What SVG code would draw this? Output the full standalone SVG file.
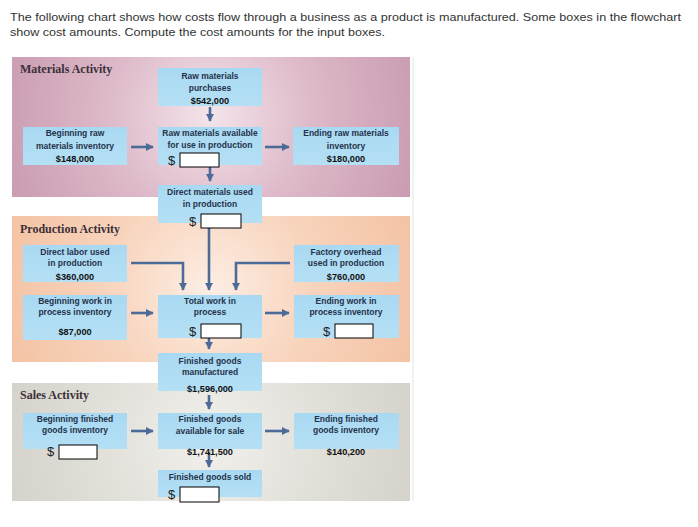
<svg xmlns="http://www.w3.org/2000/svg" width="698" height="527" viewBox="0 0 698 527">
<style>
.hdr{font-family:"Liberation Sans",Arial,sans-serif;font-size:11.5px;fill:#333}
.ttl{font-family:"Liberation Serif","Times New Roman",serif;font-weight:bold;font-size:12px;fill:#3b3038}
.box{fill:url(#boxg)}
.lb{font-family:"Liberation Sans",Arial,sans-serif;font-weight:bold;font-size:8.5px;fill:#25324a;text-anchor:middle}
.amt{font-family:"Liberation Sans",Arial,sans-serif;font-weight:bold;font-size:9.2px;fill:#111;text-anchor:middle}
.dol{font-family:"Liberation Sans",Arial,sans-serif;font-size:13px;fill:#222}
.inp{fill:#fff;stroke:#000;stroke-width:1}
.conn{stroke:#4d6b98;stroke-width:2.6;fill:none}
</style>
<defs>
<linearGradient id="boxg" x1="0" y1="0" x2="0" y2="1">
<stop offset="0" stop-color="#a9d9f2"/>
<stop offset="1" stop-color="#b4e0f5"/>
</linearGradient>
<radialGradient id="matg" cx="210" cy="115" r="230" gradientUnits="userSpaceOnUse">
<stop offset="0" stop-color="#f4e4ea"/>
<stop offset="0.45" stop-color="#ddb9c9"/>
<stop offset="1" stop-color="#c798ae"/>
</radialGradient>
<radialGradient id="prodg" cx="210" cy="290" r="230" gradientUnits="userSpaceOnUse">
<stop offset="0" stop-color="#fdeee4"/>
<stop offset="0.45" stop-color="#f8d4bd"/>
<stop offset="1" stop-color="#f3c0a0"/>
</radialGradient>
<radialGradient id="salg" cx="210" cy="440" r="230" gradientUnits="userSpaceOnUse">
<stop offset="0" stop-color="#f1f0ec"/>
<stop offset="0.5" stop-color="#e0dfd8"/>
<stop offset="1" stop-color="#d2d0c8"/>
</radialGradient>
<marker id="ah" viewBox="0 0 10 10" refX="9" refY="5" markerWidth="3.2" markerHeight="3.2" orient="auto" markerUnits="strokeWidth">
<path d="M0,0 L10,5 L0,10 z" fill="#4d6b98"/>
</marker>
</defs>
<rect width="698" height="527" fill="#fff"/>
<text class="hdr" x="10" y="21" textLength="671" lengthAdjust="spacingAndGlyphs">The following chart shows how costs flow through a business as a product is manufactured. Some boxes in the flowchart</text>
<text class="hdr" x="10" y="36" textLength="375" lengthAdjust="spacingAndGlyphs">show cost amounts. Compute the cost amounts for the input boxes.</text>

<g id="panels">
<rect x="12" y="57" width="398" height="140" fill="url(#matg)"/>
<rect x="12" y="216" width="398" height="146" fill="url(#prodg)"/>
<rect x="12" y="383" width="398" height="118" fill="url(#salg)"/>
<line x1="413" y1="57" x2="413" y2="501" stroke="#e4e4e4" stroke-width="1"/>
<text class="ttl" x="20" y="73">Materials Activity</text>
<text class="ttl" x="20" y="233">Production Activity</text>
<text class="ttl" x="20" y="399">Sales Activity</text>
</g>

<g id="connectors">
<line class="conn" x1="210" y1="107" x2="210" y2="121" marker-end="url(#ah)"/>
<line class="conn" x1="131" y1="147" x2="153" y2="147" marker-end="url(#ah)"/>
<line class="conn" x1="265" y1="147" x2="289" y2="147" marker-end="url(#ah)"/>
<line class="conn" x1="210" y1="167" x2="210" y2="181" marker-end="url(#ah)"/>
<polyline class="conn" points="131,263 183,263 183,290" marker-end="url(#ah)"/>
<line class="conn" x1="209" y1="228" x2="209" y2="290" marker-end="url(#ah)"/>
<polyline class="conn" points="290,263 236,263 236,290" marker-end="url(#ah)"/>
<line class="conn" x1="131" y1="313" x2="153" y2="313" marker-end="url(#ah)"/>
<line class="conn" x1="265" y1="313" x2="289" y2="313" marker-end="url(#ah)"/>
<line class="conn" x1="209" y1="338" x2="209" y2="349" marker-end="url(#ah)"/>
<line class="conn" x1="209" y1="395" x2="209" y2="409" marker-end="url(#ah)"/>
<line class="conn" x1="131" y1="431" x2="153" y2="431" marker-end="url(#ah)"/>
<line class="conn" x1="265" y1="431" x2="289" y2="431" marker-end="url(#ah)"/>
<line class="conn" x1="209" y1="452" x2="209" y2="467" marker-end="url(#ah)"/>
</g>

<g id="raw-materials-purchases">
<rect class="box" x="158" y="68" width="104" height="38"/>
<text class="lb" x="210" y="79">Raw materials</text>
<text class="lb" x="210" y="91">purchases</text>
<text class="amt" x="210" y="104">$542,000</text>
</g>
<g id="beginning-raw-materials">
<rect class="box" x="23" y="127" width="104" height="38"/>
<text class="lb" x="75" y="136">Beginning raw</text>
<text class="lb" x="75" y="149">materials inventory</text>
<text class="amt" x="75" y="162">$148,000</text>
</g>
<g id="raw-materials-available">
<rect class="box" x="158" y="127" width="104" height="38"/>
<text class="lb" x="210" y="136">Raw materials available</text>
<text class="lb" x="210" y="148">for use in production</text>
<text class="dol" x="168" y="165">$</text>
<rect class="inp" x="180" y="153" width="39" height="14"/>
</g>
<g id="ending-raw-materials">
<rect class="box" x="293" y="127" width="106" height="38"/>
<text class="lb" x="346" y="136">Ending raw materials</text>
<text class="lb" x="346" y="149">inventory</text>
<text class="amt" x="346" y="162">$180,000</text>
</g>
<g id="direct-materials-used">
<rect class="box" x="158" y="185" width="104" height="38"/>
<text class="lb" x="210" y="195">Direct materials used</text>
<text class="lb" x="210" y="207">in production</text>
<text class="dol" x="189" y="226">$</text>
<rect class="inp" x="201" y="214" width="40" height="14"/>
</g>

<g id="direct-labor">
<rect class="box" x="23" y="245" width="104" height="37"/>
<text class="lb" x="75" y="255">Direct labor used</text>
<text class="lb" x="75" y="266">in production</text>
<text class="amt" x="75" y="280">$360,000</text>
</g>
<g id="factory-overhead">
<rect class="box" x="294" y="245" width="105" height="37"/>
<text class="lb" x="346" y="255">Factory overhead</text>
<text class="lb" x="346" y="266">used in production</text>
<text class="amt" x="346" y="280">$760,000</text>
</g>
<g id="beginning-wip">
<rect class="box" x="23" y="295" width="104" height="45"/>
<text class="lb" x="75" y="304">Beginning work in</text>
<text class="lb" x="75" y="315">process inventory</text>
<text class="amt" x="75" y="335">$87,000</text>
</g>
<g id="total-wip">
<rect class="box" x="158" y="295" width="104" height="43"/>
<text class="lb" x="210" y="304">Total work in</text>
<text class="lb" x="210" y="315">process</text>
<text class="dol" x="189" y="336">$</text>
<rect class="inp" x="201" y="324" width="40" height="14"/>
</g>
<g id="ending-wip">
<rect class="box" x="294" y="295" width="105" height="43"/>
<text class="lb" x="346" y="304">Ending work in</text>
<text class="lb" x="346" y="315">process inventory</text>
<text class="dol" x="323" y="336">$</text>
<rect class="inp" x="335" y="324" width="38" height="14"/>
</g>
<g id="finished-goods-manufactured">
<rect class="box" x="158" y="353" width="104" height="38"/>
<text class="lb" x="210" y="364">Finished goods</text>
<text class="lb" x="210" y="375">manufactured</text>
<text class="amt" x="210" y="392">$1,596,000</text>
</g>

<g id="beginning-finished-goods">
<rect class="box" x="23" y="413" width="104" height="36"/>
<text class="lb" x="75" y="422">Beginning finished</text>
<text class="lb" x="75" y="433">goods inventory</text>
<text class="dol" x="47" y="456">$</text>
<rect class="inp" x="59" y="445" width="38" height="14"/>
</g>
<g id="finished-goods-available">
<rect class="box" x="158" y="413" width="104" height="36"/>
<text class="lb" x="210" y="422">Finished goods</text>
<text class="lb" x="210" y="434">available for sale</text>
<text class="amt" x="210" y="455">$1,741,500</text>
</g>
<g id="ending-finished-goods">
<rect class="box" x="294" y="413" width="105" height="36"/>
<text class="lb" x="346" y="422">Ending finished</text>
<text class="lb" x="346" y="433">goods inventory</text>
<text class="amt" x="346" y="455">$140,200</text>
</g>
<g id="finished-goods-sold">
<rect class="box" x="158" y="470" width="104" height="27"/>
<text class="lb" x="210" y="480">Finished goods sold</text>
<text class="dol" x="168" y="499">$</text>
<rect class="inp" x="180" y="487" width="39" height="15"/>
</g>
</svg>
